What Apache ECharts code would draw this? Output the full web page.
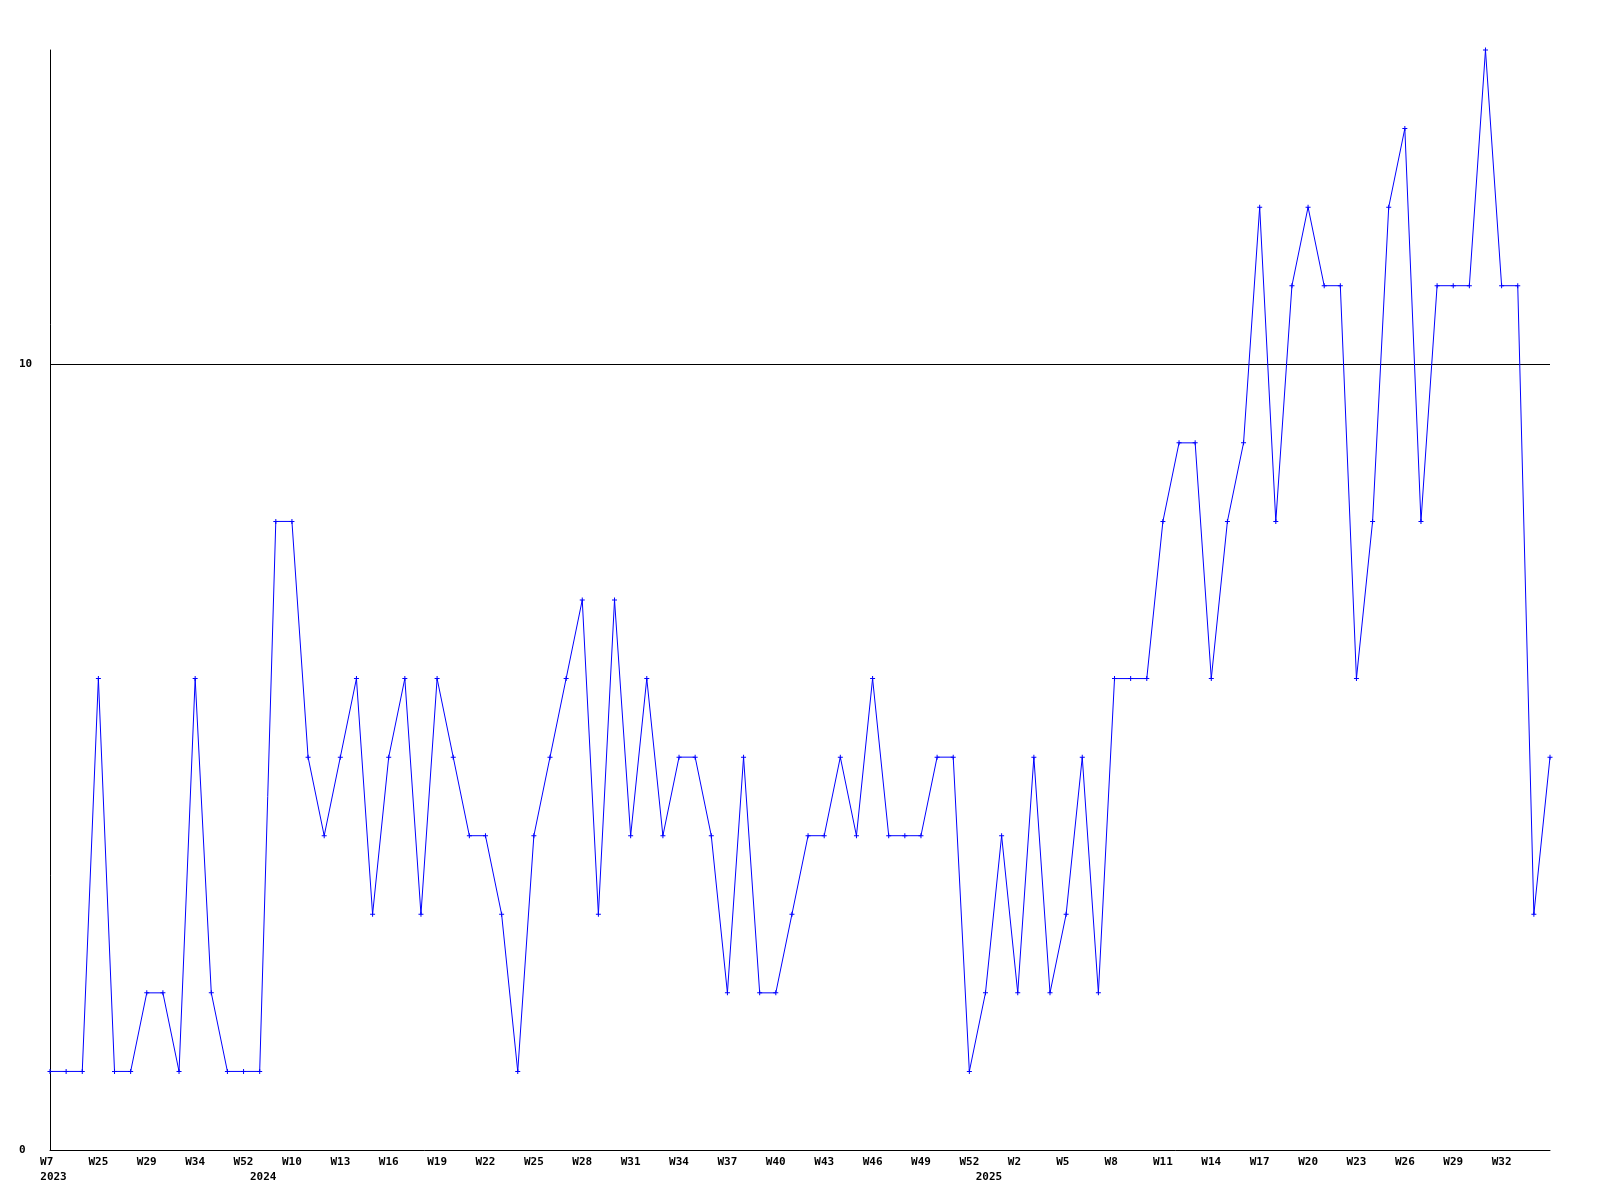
<!DOCTYPE html>
<html>
<head>
<meta charset="utf-8">
<script src="https://cdn.jsdelivr.net/npm/echarts@6/dist/echarts.min.js"></script>
<style>
html,body{margin:0;padding:0;background:#fff;}
#chart{width:1600px;height:1200px;}
</style>
</head>
<body>
<div id="chart"></div>
<script>
// Week categories per year
const weeks2023 = ["W7","W12","W18","W25","W26","W27","W29","W31","W33","W34","W38","W45","W52"];
const weeks2024 = ["W8","W9","W10","W11","W12","W13","W14","W15","W16","W17","W18","W19","W20","W21","W22","W23","W24","W25","W26","W27","W28","W29","W30","W31","W32","W33","W34","W35","W36","W37","W38","W39","W40","W41","W42","W43","W44","W45","W46","W47","W48","W49","W50","W51","W52"];
const weeks2025 = ["W0","W1","W2","W3","W4","W5","W6","W7","W8","W9","W10","W11","W12","W13","W14","W15","W16","W17","W18","W19","W20","W21","W22","W23","W24","W25","W26","W27","W28","W29","W30","W31","W32","W33","W34","W35"];

// Series values per year
const values2023 = [1,1,1,6,1,1,2,2,1,6,2,1,1];
const values2024 = [1,8,8,5,4,5,6,3,5,6,3,6,5,4,4,3,1,4,5,6,7,3,7,4,6,4,5,5,4,2,5,2,2,3,4,4,5,4,6,4,4,4,5,5,1];
const values2025 = [2,4,2,5,2,3,5,2,6,6,6,8,9,9,6,8,9,12,8,11,12,11,11,6,8,12,13,8,11,11,11,14,11,11,3,5];

const years = ["2023","2024","2025"];
const yTicks = [0, 10];

const groups = [weeks2023, weeks2024, weeks2025];
const categories = [].concat(weeks2023, weeks2024, weeks2025);
const values = [].concat(values2023, values2024, values2025);
const yearAt = {};
let start = 0;
groups.forEach((g, k) => { yearAt[start] = years[k]; start += g.length; });
const lastIdx = categories.length - 1;

const font = '"DejaVu Sans Mono", "Liberation Mono", monospace';
const chart = echarts.init(document.getElementById('chart'), null, {renderer: 'canvas'});
chart.setOption({
  animation: false,
  backgroundColor: '#ffffff',
  grid: {left: 50, right: 50, top: 50, bottom: 50, containLabel: false},
  xAxis: [{
    type: 'category',
    data: categories,
    boundaryGap: false,
    position: 'bottom',
    axisLine: {show: true, lineStyle: {color: '#000', width: 1}},
    axisTick: {show: false},
    splitLine: {show: false},
    axisLabel: {
      interval: (idx) => idx % 3 === 0 && idx < lastIdx,
      margin: 7,
      color: '#000',
      fontFamily: font,
      fontWeight: 'bold',
      fontSize: 11,
      align: 'center',
      formatter: v => v.padEnd(3, ' ')
    }
  }, {
    type: 'category',
    data: categories,
    boundaryGap: false,
    position: 'bottom',
    axisLine: {show: false},
    axisTick: {show: false},
    splitLine: {show: false},
    axisLabel: {
      interval: (idx) => yearAt[idx] !== undefined,
      margin: 22,
      color: '#000',
      fontFamily: font,
      fontWeight: 'bold',
      fontSize: 11,
      align: 'center',
      padding: [0, 0, 0, 7],
      formatter: (v, idx) => yearAt[idx] || ''
    }
  }],
  yAxis: {
    type: 'value',
    min: 0,
    max: 14,
    interval: 10,
    axisLine: {show: true, lineStyle: {color: '#000', width: 1}},
    axisTick: {show: false},
    splitLine: {show: true, showMinLine: false, showMaxLine: false, lineStyle: {color: '#000', width: 1}},
    axisLabel: {
      margin: 31,
      align: 'left',
      color: '#000',
      fontFamily: font,
      fontWeight: 'bold',
      fontSize: 11,
      formatter: v => yTicks.indexOf(v) >= 0 ? String(v) : ''
    }
  },
  series: [{
    type: 'line',
    xAxisIndex: 0,
    data: values,
    symbol: 'path://M0,2H2V0H3V2H5V3H3V5H2V3H0Z',
    symbolSize: 5,
    showAllSymbol: true,
    lineStyle: {color: '#0000ff', width: 1},
    itemStyle: {color: '#0000ff'},
    emphasis: {disabled: true}
  }]
});
</script>
</body>
</html>
